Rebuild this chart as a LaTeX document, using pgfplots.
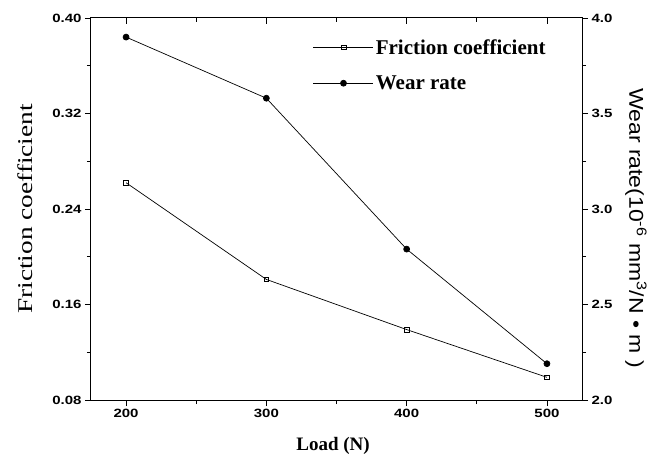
\documentclass[border=0pt]{standalone}
\usepackage{fontspec}
\setmainfont{Liberation Serif}
\newfontfamily\tickfont[FakeStretch=1.25]{Liberation Sans}
\newfontfamily\labfont[FakeStretch=1.3]{Liberation Serif}
\newfontfamily\rlabfont[FakeStretch=1.15]{Liberation Sans}
\usepackage{pgfplots}
\pgfplotsset{compat=1.18}
\usetikzlibrary{calc}

\pgfplotsset{
  common/.style={
    scale only axis, width=491pt, height=382pt,
    xmin=175, xmax=525,
    xtick={200,300,400,500}, minor x tick num=1,
    major tick length=6pt, minor tick length=4pt,
    tick style={black, line width=0.8pt},
    axis line style={line width=1pt},
    /pgf/number format/assume math mode=true,
    ticklabel style={font=\tickfont\bfseries\fontsize{12}{13}\selectfont},
  },
  fric/.style={black, line width=0.7pt, mark=square, mark size=2.4pt,
    mark options={solid, fill=white, line width=0.7pt}},
  wear/.style={black, line width=0.7pt, mark=*, mark size=3pt,
    mark options={solid}},
}

\begin{document}
\begin{tikzpicture}
\begin{axis}[common, name=ax,
  ymin=0.08, ymax=0.40,
  ytick={0.08,0.16,0.24,0.32,0.40}, minor y tick num=1,
  xtick pos=bottom, ytick pos=left, tick align=outside,
  yticklabel style={/pgf/number format/.cd, fixed, fixed zerofill, precision=2},
  xlabel={Load (N)},
  ylabel={Friction coefficient},
  xlabel style={at={(axis description cs:0.493,-0.12)}, anchor=center,
    font=\bfseries\fontsize{19}{22}\selectfont},
  ylabel style={at={(axis description cs:-0.134,0.5)}, anchor=center,
    font=\labfont\fontsize{21}{24}\selectfont},
]
\addplot[fric] coordinates {(200,0.262) (300,0.181) (400,0.139) (500,0.099)};
\end{axis}

\begin{axis}[common,
  ymin=2.0, ymax=4.0,
  axis x line=none, axis y line*=right,
  ytick={2.0,2.5,3.0,3.5,4.0}, minor y tick num=1,
  tick align=outside,
  yticklabel style={/pgf/number format/.cd, fixed, fixed zerofill, precision=1},
  ylabel={Wear rate(10\textsuperscript{-6} mm\textsuperscript{3}/N \textbullet{} m )},
  ylabel style={at={(axis description cs:1.110,0.45)}, anchor=center, rotate=180,
    font=\rlabfont\fontsize{20}{24}\selectfont},
  legend style={at={(axis description cs:0.452,0.95)}, anchor=north west,
    draw=none, fill=none, inner sep=0pt, row sep=16pt,
    font=\bfseries\fontsize{21}{24}\selectfont},
  legend cell align=left,
  legend image code/.code={\draw[mark repeat=2,mark phase=2,#1]
    plot coordinates {(0pt,0pt) (30pt,0pt) (60pt,0pt)};},
]
\addlegendimage{fric}
\addlegendentry{Friction coefficient}
\addplot[wear] coordinates {(200,3.90) (300,3.58) (400,2.79) (500,2.19)};
\addlegendentry{Wear rate}
\end{axis}

\begin{axis}[common,
  ymin=0, ymax=1,
  axis x line*=top, axis y line=none,
  tick align=inside, xticklabels={},
]
\end{axis}

\pgfresetboundingbox
\path[use as bounding box] ($(ax.south west)+(-91pt,-59pt)$) rectangle ($(ax.north east)+(72pt,18pt)$);
\end{tikzpicture}
\end{document}
